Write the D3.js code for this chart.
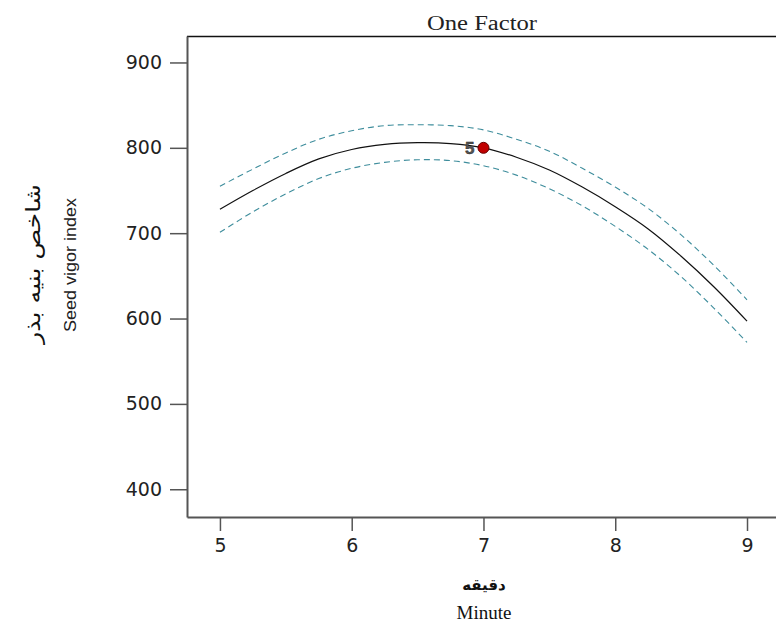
<!DOCTYPE html>
<html>
<head>
<meta charset="utf-8">
<script src="https://cdn.jsdelivr.net/npm/d3@7/dist/d3.min.js"></script>
<style>
  html, body { margin: 0; padding: 0; background: #fff; }
  svg { display: block; }
</style>
</head>
<body>
<svg id="chart" width="776" height="628"></svg>
<script>
// ---- data ----
const minutes = [5, 5.25, 5.5, 5.75, 6, 6.25, 6.5, 6.75, 7, 7.25, 7.5, 7.75, 8, 8.25, 8.5, 8.75, 9];
const predicted = [728, 750, 770, 787, 798, 804, 806, 805, 800, 789, 774, 754, 731, 705, 673, 637, 597];
const upperCI = [755, 775, 794, 810, 820, 826, 827, 826, 821, 810, 796, 776, 754, 729, 698, 662, 622];
const lowerCI = [701, 725, 746, 764, 776, 783, 786, 785, 779, 768, 752, 732, 708, 681, 649, 612, 572];
const designPoints = [{ x: 7, y: 800, label: "5" }];
const xTicks = [5, 6, 7, 8, 9];
const yTicks = [400, 500, 600, 700, 800, 900];
const titleText = "One Factor";
const xTitleFa = "دقیقه";
const xTitleEn = "Minute";
const yTitleFa = "شاخص بنیه بذر";
const yTitleEn = "Seed vigor index";

// ---- layout ----
const svg = d3.select("#chart");
const mLeft = 187, mRight = 776, mTop = 36, mBottom = 517;

const x = d3.scaleLinear().domain([4.75, 9.22]).range([mLeft, mRight]);
const y = d3.scaleLinear().domain([367.5, 931]).range([mBottom, mTop]);

const axisColor = "#555";
const tickFont = "'DejaVu Sans', Verdana, sans-serif";
const sans = "'Liberation Sans', Arial, sans-serif";
const serif = "'Liberation Serif', 'Times New Roman', serif";

// frame line on top
svg.append("line").attr("x1", mLeft).attr("x2", mRight).attr("y1", mTop + 0.5).attr("y2", mTop + 0.5)
  .attr("stroke", "#111").attr("stroke-width", 1.5);

// y axis
const yAxis = svg.append("g").attr("transform", `translate(${mLeft},0)`)
  .call(d3.axisLeft(y).tickValues(yTicks).tickSize(17).tickPadding(8).tickSizeOuter(0));
yAxis.select(".domain").attr("stroke", axisColor).attr("stroke-width", 2);
yAxis.selectAll(".tick line").attr("stroke", axisColor).attr("stroke-width", 1.5);
yAxis.selectAll(".tick text").attr("font-family", tickFont).attr("font-size", 19).attr("fill", "#222");

// x axis
const xAxis = svg.append("g").attr("transform", `translate(0,${mBottom})`)
  .call(d3.axisBottom(x).tickValues(xTicks).tickFormat(d3.format("d")).tickSize(14).tickPadding(8).tickSizeOuter(0));
xAxis.select(".domain").attr("stroke", axisColor).attr("stroke-width", 2);
xAxis.selectAll(".tick line").attr("stroke", axisColor).attr("stroke-width", 1.5);
xAxis.selectAll(".tick text").attr("font-family", tickFont).attr("font-size", 19).attr("fill", "#222");

// curves
const lineGen = arr => d3.line()
  .x((d, i) => x(minutes[i]))
  .y(d => y(d))
  .curve(d3.curveCatmullRom)(arr);

svg.append("path").attr("d", lineGen(upperCI)).attr("fill", "none")
  .attr("stroke", "#3e8d9c").attr("stroke-width", 1.1).attr("stroke-dasharray", "6,4");
svg.append("path").attr("d", lineGen(lowerCI)).attr("fill", "none")
  .attr("stroke", "#3e8d9c").attr("stroke-width", 1.1).attr("stroke-dasharray", "6,4");
svg.append("path").attr("d", lineGen(predicted)).attr("fill", "none")
  .attr("stroke", "#111").attr("stroke-width", 1.2);

// design point
const pts = svg.append("g");
pts.selectAll("circle").data(designPoints).join("circle")
  .attr("cx", d => x(d.x)).attr("cy", d => y(d.y)).attr("r", 5.5)
  .attr("fill", "#c00000").attr("stroke", "#600").attr("stroke-width", 1);
pts.selectAll("text").data(designPoints).join("text")
  .attr("x", d => x(d.x) - 9).attr("y", d => y(d.y) + 6)
  .attr("text-anchor", "end").attr("font-family", sans).attr("font-weight", "bold")
  .attr("font-size", 17).attr("fill", "#555").attr("stroke", "#222").attr("stroke-width", 0.4)
  .text(d => d.label);

// titles
svg.append("text").attr("x", 482).attr("y", 30).attr("text-anchor", "middle")
  .attr("font-family", serif).attr("font-size", 20).attr("fill", "#222")
  .attr("textLength", 110).attr("lengthAdjust", "spacingAndGlyphs").text(titleText);

svg.append("text").attr("x", 484).attr("y", 590).attr("text-anchor", "middle")
  .attr("font-family", "'DejaVu Sans', sans-serif").attr("font-weight", "bold")
  .attr("font-size", 15).attr("fill", "#111").text(xTitleFa);
svg.append("text").attr("x", 484).attr("y", 619).attr("text-anchor", "middle")
  .attr("font-family", serif).attr("font-size", 19).attr("fill", "#111").text(xTitleEn);

svg.append("text").attr("transform", "translate(40,264) rotate(-90)").attr("text-anchor", "middle")
  .attr("font-family", "'DejaVu Sans', sans-serif").attr("font-size", 20).attr("fill", "#111")
  .attr("textLength", 160).attr("lengthAdjust", "spacingAndGlyphs").text(yTitleFa);
svg.append("text").attr("transform", "translate(76,265) rotate(-90)").attr("text-anchor", "middle")
  .attr("font-family", sans).attr("font-size", 16).attr("fill", "#222")
  .attr("textLength", 134).attr("lengthAdjust", "spacingAndGlyphs").text(yTitleEn);
</script>
</body>
</html>
